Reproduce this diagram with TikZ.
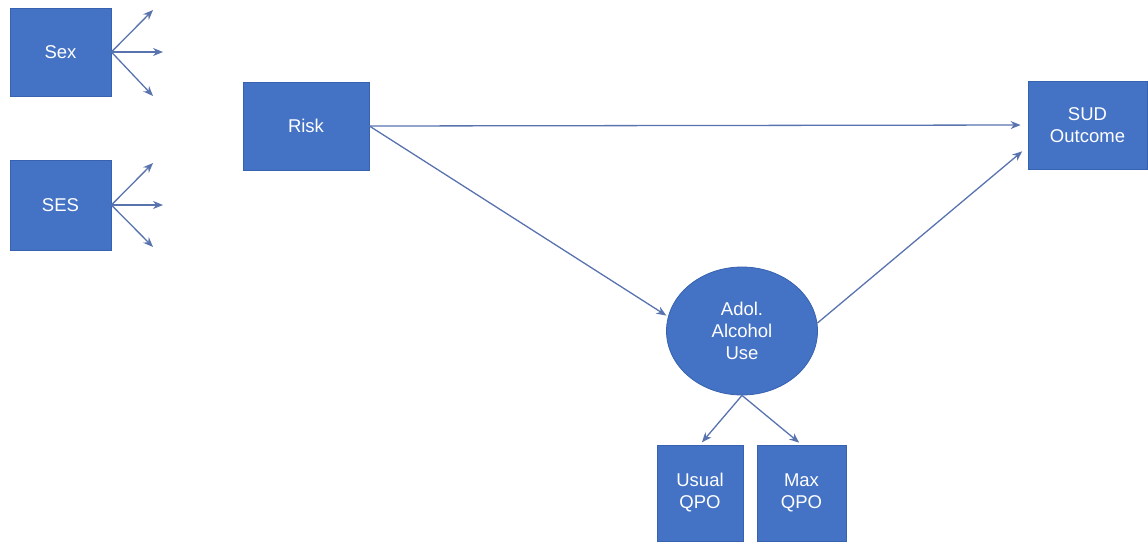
\documentclass[tikz,border=0pt]{standalone}
\usepackage{fontspec}
\setmainfont{Liberation Sans}
\usetikzlibrary{shapes.geometric,arrows.meta}
\definecolor{boxblue}{HTML}{4472C4}
\definecolor{boxedge}{HTML}{3762B0}
\definecolor{arrowblue}{HTML}{5873AE}
\tikzset{
  box/.style={draw=boxedge, line width=0.8pt, fill=boxblue, text=white, inner sep=0pt,
    font=\fontsize{18.5}{22}\selectfont, align=center},
  ellnode/.style={ellipse, draw=boxedge, line width=0.8pt, fill=boxblue, text=white, inner sep=0pt,
    font=\fontsize{18.5}{22}\selectfont, align=center},
  conn/.style={draw=arrowblue, line width=1.3pt, -{Stealth[length=10pt,width=8pt]}}
}
\begin{document}
\begin{tikzpicture}[x=1pt,y=-1pt]
\useasboundingbox (0,0) rectangle (1148,542);
\node[box, minimum width=101pt, minimum height=88pt] (sex) at (60.5,52) {Sex};
\node[box, minimum width=101pt, minimum height=90pt] (ses) at (60.5,205) {SES};
\node[box, minimum width=126pt, minimum height=88pt] (risk) at (306,126) {Risk};
\node[box, minimum width=119pt, minimum height=88pt] (sud) at (1087.5,125) {SUD\\Outcome};
\node[ellnode, minimum width=151pt, minimum height=128pt] (adol) at (742,331) {Adol.\\Alcohol\\Use};
\node[box, minimum width=86pt, minimum height=96pt] (usual) at (700,493) {Usual\\QPO};
\node[box, minimum width=89pt, minimum height=96pt] (max) at (801.5,493) {Max\\QPO};

\coordinate (sexa) at (153,10);
\coordinate (sexb) at (163,52);
\coordinate (sexc) at (153,96);
\coordinate (sesa) at (153,163);
\coordinate (sesb) at (163,205);
\coordinate (sesc) at (153,247);

\draw[conn] (sex.east) -- (sexa);
\draw[conn] (sex.east) -- (sexb);
\draw[conn] (sex.east) -- (sexc);
\draw[conn] (ses.east) -- (sesa);
\draw[conn] (ses.east) -- (sesb);
\draw[conn] (ses.east) -- (sesc);

\draw[conn, shorten >=7pt] (risk.east) -- (sud.west);
\draw[conn, shorten >=2pt] (risk.east) -- (adol.169);
\draw[conn, shorten >=7pt] (adol.6) -- (sud.200);
\draw[conn, shorten >=3pt] (adol.south) -- (usual.north);
\draw[conn, shorten >=3pt] (adol.south) -- (max.north);
\end{tikzpicture}
\end{document}
